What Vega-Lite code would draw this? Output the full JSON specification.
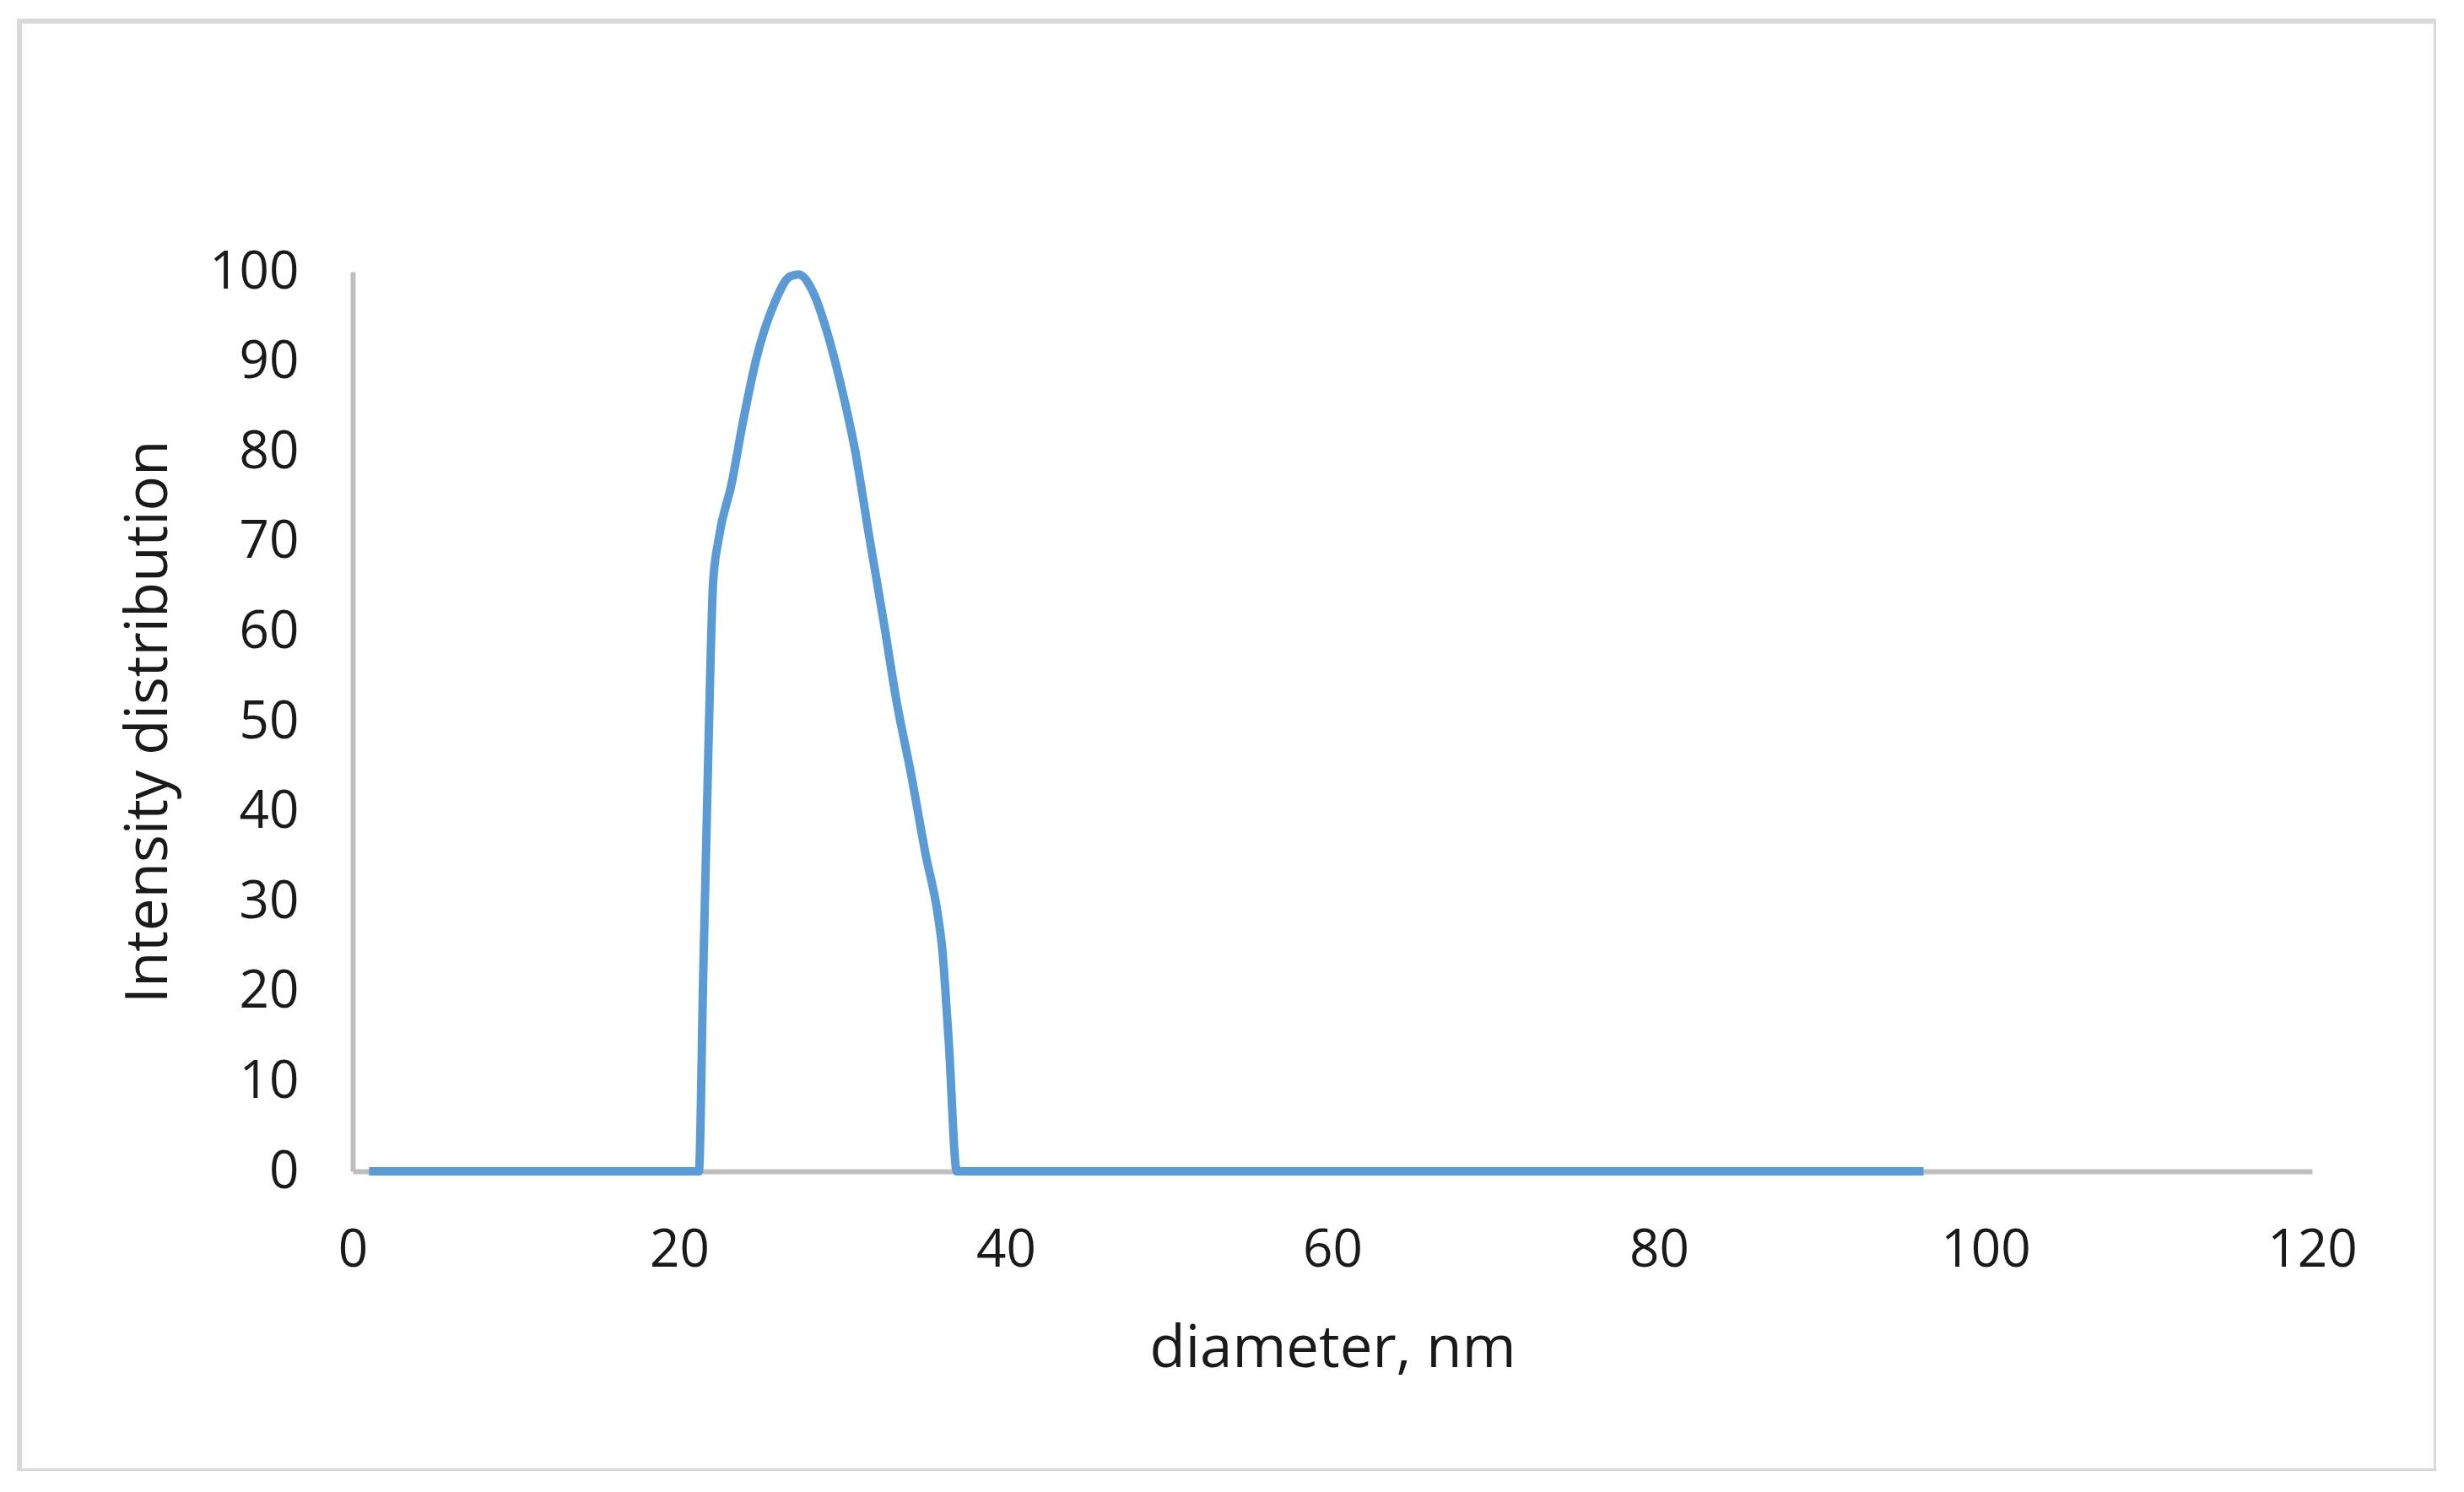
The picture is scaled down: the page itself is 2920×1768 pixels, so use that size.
{
  "$schema": "https://vega.github.io/schema/vega-lite/v6.json",
  "autosize": {"type": "none"},
  "padding": {"left": 23, "top": 25, "right": 0, "bottom": 0},
  "width": 2864,
  "height": 1718,
  "background": "white",
  "config": {
    "view": {"stroke": "#d9d9d9", "strokeWidth": 6},
    "font": "Open Sans",
    "axis": {
      "grid": false,
      "ticks": false,
      "labelFlush": false,
      "domainColor": "#bfbfbf",
      "domainWidth": 6,
      "labelFont": "Open Sans",
      "labelFontSize": 62,
      "labelColor": "#1a1a1a",
      "titleFont": "Open Sans",
      "titleFontSize": 69,
      "titleFontWeight": "normal",
      "titleColor": "#1a1a1a"
    }
  },
  "data": {
    "values": [
      {"d": 1, "v": 0},
      {"d": 5, "v": 0},
      {"d": 10, "v": 0},
      {"d": 15, "v": 0},
      {"d": 20, "v": 0},
      {"d": 21.2, "v": 0},
      {"d": 21.46, "v": 21.4},
      {"d": 21.72, "v": 42},
      {"d": 21.9, "v": 55.8},
      {"d": 22.07, "v": 65.4},
      {"d": 22.4, "v": 70.2},
      {"d": 23.2, "v": 76.4},
      {"d": 23.9, "v": 83.3},
      {"d": 24.7, "v": 90.2},
      {"d": 25.8, "v": 96.4},
      {"d": 26.8, "v": 99.5},
      {"d": 27.3, "v": 99.7},
      {"d": 28.2, "v": 97.7},
      {"d": 29.0, "v": 93.6},
      {"d": 29.9, "v": 87.4},
      {"d": 30.8, "v": 79.8},
      {"d": 31.6, "v": 70.9},
      {"d": 32.5, "v": 61.3},
      {"d": 33.3, "v": 52.3},
      {"d": 34.2, "v": 44.1},
      {"d": 35.1, "v": 35.1},
      {"d": 35.8, "v": 28.9},
      {"d": 36.1, "v": 24.8},
      {"d": 36.5, "v": 14.5},
      {"d": 37.0, "v": 0},
      {"d": 40, "v": 0},
      {"d": 50, "v": 0},
      {"d": 60, "v": 0},
      {"d": 70, "v": 0},
      {"d": 80, "v": 0},
      {"d": 90, "v": 0},
      {"d": 96.2, "v": 0}
    ]
  },
  "mark": {"type": "line", "color": "#5b9bd5", "strokeWidth": 10, "interpolate": "monotone", "strokeCap": "butt"},
  "encoding": {
    "x": {
      "field": "d",
      "type": "quantitative",
      "scale": {"domain": [0, 120], "range": [395, 2717], "nice": false, "zero": false},
      "axis": {
        "title": "diameter, nm",
        "values": [0, 20, 40, 60, 80, 100, 120],
        "offset": -355,
        "labelPadding": 63,
        "titlePadding": 52
      }
    },
    "y": {
      "field": "v",
      "type": "quantitative",
      "scale": {"domain": [0, 100], "range": [1363, 297], "nice": false},
      "axis": {
        "title": "Intensity distribution",
        "values": [0, 10, 20, 30, 40, 50, 60, 70, 80, 90, 100],
        "offset": -395,
        "labelPadding": 64,
        "labelFlush": false,
        "titlePadding": 36
      }
    }
  }
}
